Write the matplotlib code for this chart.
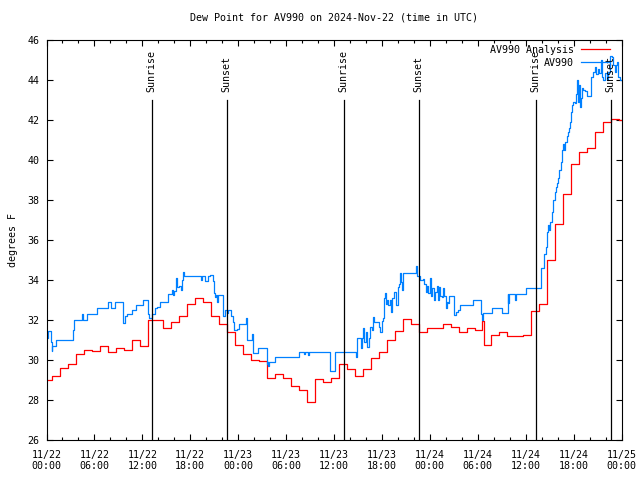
import matplotlib
matplotlib.use('Agg')
import matplotlib.pyplot as plt

# hours since 2024-11-22 00:00 UTC
analysis_hours = [0.0, 0.65, 1.65, 2.65, 3.65, 4.65, 5.65, 6.65, 7.65, 8.65, 9.65,
                  10.65, 11.65, 12.65, 13.65, 14.65, 15.65, 16.65, 17.65, 18.65, 19.65,
                  20.65, 21.65, 22.65, 23.65, 24.65, 25.65, 26.65, 27.65, 28.65, 29.65,
                  30.65, 31.65, 32.65, 33.65, 34.65, 35.65, 36.65, 37.65, 38.65, 39.65,
                  40.65, 41.65, 42.65, 43.65, 44.65, 45.65, 46.65, 47.65, 48.65, 49.65,
                  50.65, 51.65, 52.65, 53.65, 54.57, 54.82, 55.65, 56.65, 57.65, 58.65,
                  59.65, 60.65, 61.65, 62.65, 63.65, 64.65, 65.65, 66.65, 67.65, 68.65,
                  69.65, 70.65, 71.65, 72.0]
analysis_dewpt = [29.0, 29.2, 29.6, 29.8, 30.3, 30.5, 30.45, 30.7, 30.4, 30.6, 30.5,
                  31.0, 30.7, 32.0, 32.0, 31.6, 31.9, 32.2, 32.8, 33.1, 32.9,
                  32.2, 31.8, 31.4, 30.75, 30.3, 30.0, 29.95, 29.1, 29.3, 29.1,
                  28.7, 28.5, 27.9, 29.05, 28.9, 29.1, 29.8, 29.55, 29.2, 29.55,
                  30.1, 30.4, 31.0, 31.45, 32.05, 31.8, 31.4, 31.6, 31.6, 31.8,
                  31.65, 31.4, 31.6, 31.5, 31.95, 30.75, 31.25, 31.4, 31.2, 31.2,
                  31.25, 32.45, 32.8, 35.0, 36.8, 38.3, 39.8, 40.4, 40.6, 41.4,
                  41.9, 42.05, 42.0, 42.0]

obs_hours = [0.0, 0.19, 0.60, 0.69, 0.75, 1.23, 3.36, 3.48, 4.41, 4.57, 5.11, 6.29, 7.74,
             8.08, 8.58, 9.62, 9.83, 10.12, 10.67, 11.24, 12.05, 12.75, 12.84, 13.17,
             13.59, 13.80, 14.21, 15.25, 15.68, 15.88, 16.00, 16.22, 16.38, 16.63, 16.80,
             16.93, 17.06, 17.22, 19.35, 19.51, 19.85, 20.26, 20.51, 20.81, 20.97, 21.10,
             21.26, 21.39, 21.51, 22.06, 22.14, 22.35, 22.64, 22.77, 23.07, 23.39, 23.48,
             23.82, 24.07, 24.98, 25.07, 25.73, 25.90, 26.45, 27.57, 27.70, 27.77, 27.90,
             28.65, 31.58, 32.24, 32.43, 32.75, 32.87, 35.54, 36.13, 38.76, 38.92, 39.35,
             39.55, 39.67, 39.80, 39.97, 40.10, 40.42, 40.51, 40.72, 40.85, 41.05, 41.67,
             41.76, 41.97, 42.10, 42.26, 42.39, 42.51, 42.68, 42.80, 43.01, 43.14, 43.30,
             43.55, 43.73, 43.98, 44.14, 44.27, 44.39, 44.48, 44.60, 46.27, 46.43, 46.77,
             47.11, 47.31, 47.48, 47.61, 47.81, 48.02, 48.15, 48.31, 48.56, 48.69, 48.86,
             48.99, 49.15, 49.27, 49.49, 49.69, 49.81, 49.99, 50.11, 50.24, 50.40, 51.07,
             51.24, 51.49, 51.78, 53.44, 54.41, 54.57, 54.70, 55.82, 57.08, 57.75, 57.83,
             57.92, 58.67, 58.79, 60.04, 61.88, 62.29, 62.51, 62.63, 62.84, 62.96, 63.05,
             63.26, 63.46, 63.67, 63.84, 63.96, 64.09, 64.21, 64.39, 64.59, 64.71, 64.84,
             64.93, 65.14, 65.27, 65.47, 65.55, 65.68, 65.84, 65.97, 66.18, 66.31, 66.47,
             66.59, 66.72, 66.81, 66.89, 67.02, 67.22, 67.43, 67.64, 68.18, 68.47, 68.68,
             68.81, 69.02, 69.22, 69.40, 69.60, 69.72, 69.93, 70.15, 70.35, 70.56, 70.77,
             70.98, 71.19, 71.31, 71.48, 71.60, 71.81, 72.0]
obs_dewpt = [31.1, 31.45, 30.9, 30.45, 30.7, 31.0, 31.5, 32.0, 32.3, 32.0, 32.3, 32.6, 32.9,
             32.6, 32.9, 31.85, 32.2, 32.3, 32.5, 32.75, 33.0, 32.3, 32.1, 32.3,
             32.6, 32.65, 32.9, 33.3, 33.5, 33.25, 33.45, 34.1, 33.65, 33.7, 33.5,
             34.0, 34.4, 34.2, 34.0, 34.2, 33.95, 34.2, 34.25, 33.95, 33.35, 33.15,
             33.25, 32.9, 33.25, 32.25, 32.2, 32.5, 32.35, 32.5, 32.2, 31.9, 31.5,
             31.55, 31.8, 32.1, 31.0, 31.3, 30.33, 30.58, 29.8, 29.9, 29.7, 29.9,
             30.15, 30.4, 30.3, 30.4, 30.25, 30.4, 29.45, 30.4, 30.15, 31.1, 30.6,
             31.1, 31.6, 30.9, 31.4, 30.65, 31.1, 31.65, 31.5, 32.15, 31.9, 31.65,
             31.4, 31.95, 32.1, 33.1, 33.35, 32.8, 33.0, 32.75, 33.0, 32.4, 33.1,
             33.4, 32.75, 33.65, 33.8, 34.35, 33.9, 33.5, 34.35, 34.7, 34.2, 34.0,
             34.05, 33.8, 33.4, 33.7, 33.35, 34.1, 33.2, 33.6, 33.0, 33.4, 33.7,
             33.0, 33.65, 33.2, 33.15, 33.6, 33.2, 32.6, 32.9, 32.85, 33.2, 32.25,
             32.4, 32.5, 32.75, 33.0, 32.3, 32.0, 32.35, 32.6, 32.35, 33.3, 32.85,
             33.3, 33.0, 33.3, 33.6, 34.6, 35.3, 35.65, 36.4, 36.75, 36.5, 36.9,
             37.4, 38.0, 38.4, 38.65, 38.85, 39.1, 39.5, 39.9, 40.5, 40.8, 40.5,
             40.9, 41.2, 41.4, 41.6, 41.9, 42.4, 42.75, 42.9, 42.85, 43.3, 44.0,
             42.9, 43.75, 42.65, 43.1, 43.6, 43.5, 43.45, 43.2, 44.15, 44.4, 44.65,
             44.3, 44.55, 44.35, 45.0, 44.15, 44.0, 44.35, 44.0, 44.4, 45.2, 45.15,
             44.75, 44.4, 44.75, 44.9, 44.15, 44.0, 44.0]

sun_hours = [13.19, 22.58, 37.23, 46.62, 61.27, 70.66]
sun_labels = ['Sunrise', 'Sunset', 'Sunrise', 'Sunset', 'Sunrise', 'Sunset']

tick_hours = [0, 6, 12, 18, 24, 30, 36, 42, 48, 54, 60, 66, 72]
tick_labels = ['11/22\n00:00', '11/22\n06:00', '11/22\n12:00', '11/22\n18:00',
               '11/23\n00:00', '11/23\n06:00', '11/23\n12:00', '11/23\n18:00',
               '11/24\n00:00', '11/24\n06:00', '11/24\n12:00', '11/24\n18:00',
               '11/25\n00:00']

plt.rcParams['font.family'] = ['DejaVu Sans Mono']
fs = 7.2

fig = plt.figure(figsize=(6.4, 4.8), dpi=100)
ax = fig.add_axes([46.5 / 640, 40 / 480, 575 / 640, 400 / 480])

ax.plot(analysis_hours, analysis_dewpt, drawstyle='steps-post', color='#ff0000',
        lw=0.9, label='AV990 Analysis')
ax.plot(obs_hours, obs_dewpt, drawstyle='steps-post', color='#0080ff',
        lw=0.9, label='AV990')

for h, lab in zip(sun_hours, sun_labels):
    ax.axvline(h, ymin=0, ymax=0.85, color='black', lw=0.9)
    ax.text(h, 0.871, lab, transform=ax.get_xaxis_transform(), rotation=90,
            ha='center', va='bottom', fontsize=fs)

ax.set_xlim(0, 72)
ax.set_ylim(26, 46)
ax.set_xticks(tick_hours)
ax.set_xticklabels(tick_labels)
ax.set_xticks(range(0, 73, 2), minor=True)
ax.set_yticks(range(26, 47, 2))
ax.tick_params(which='both', direction='in', top=True, right=True, labelsize=fs)
ax.tick_params(which='major', length=4, width=0.8)
ax.tick_params(which='minor', length=2, width=0.8)
ax.tick_params(axis='x', pad=7)
ax.tick_params(axis='y', pad=5)
for s in ax.spines.values():
    s.set_linewidth(0.8)

ax.set_ylabel('degrees F', fontsize=fs, labelpad=7)
ax.set_title('Dew Point for AV990 on 2024-Nov-22 (time in UTC)', fontsize=fs, pad=14)

ax.legend(loc='upper right', bbox_to_anchor=(0.98, 0.9875), frameon=False,
          markerfirst=False, fontsize=fs, handlelength=2.9, handletextpad=0.7,
          labelspacing=0.3, borderpad=0, borderaxespad=0)

fig.savefig('out.png', dpi=100)
